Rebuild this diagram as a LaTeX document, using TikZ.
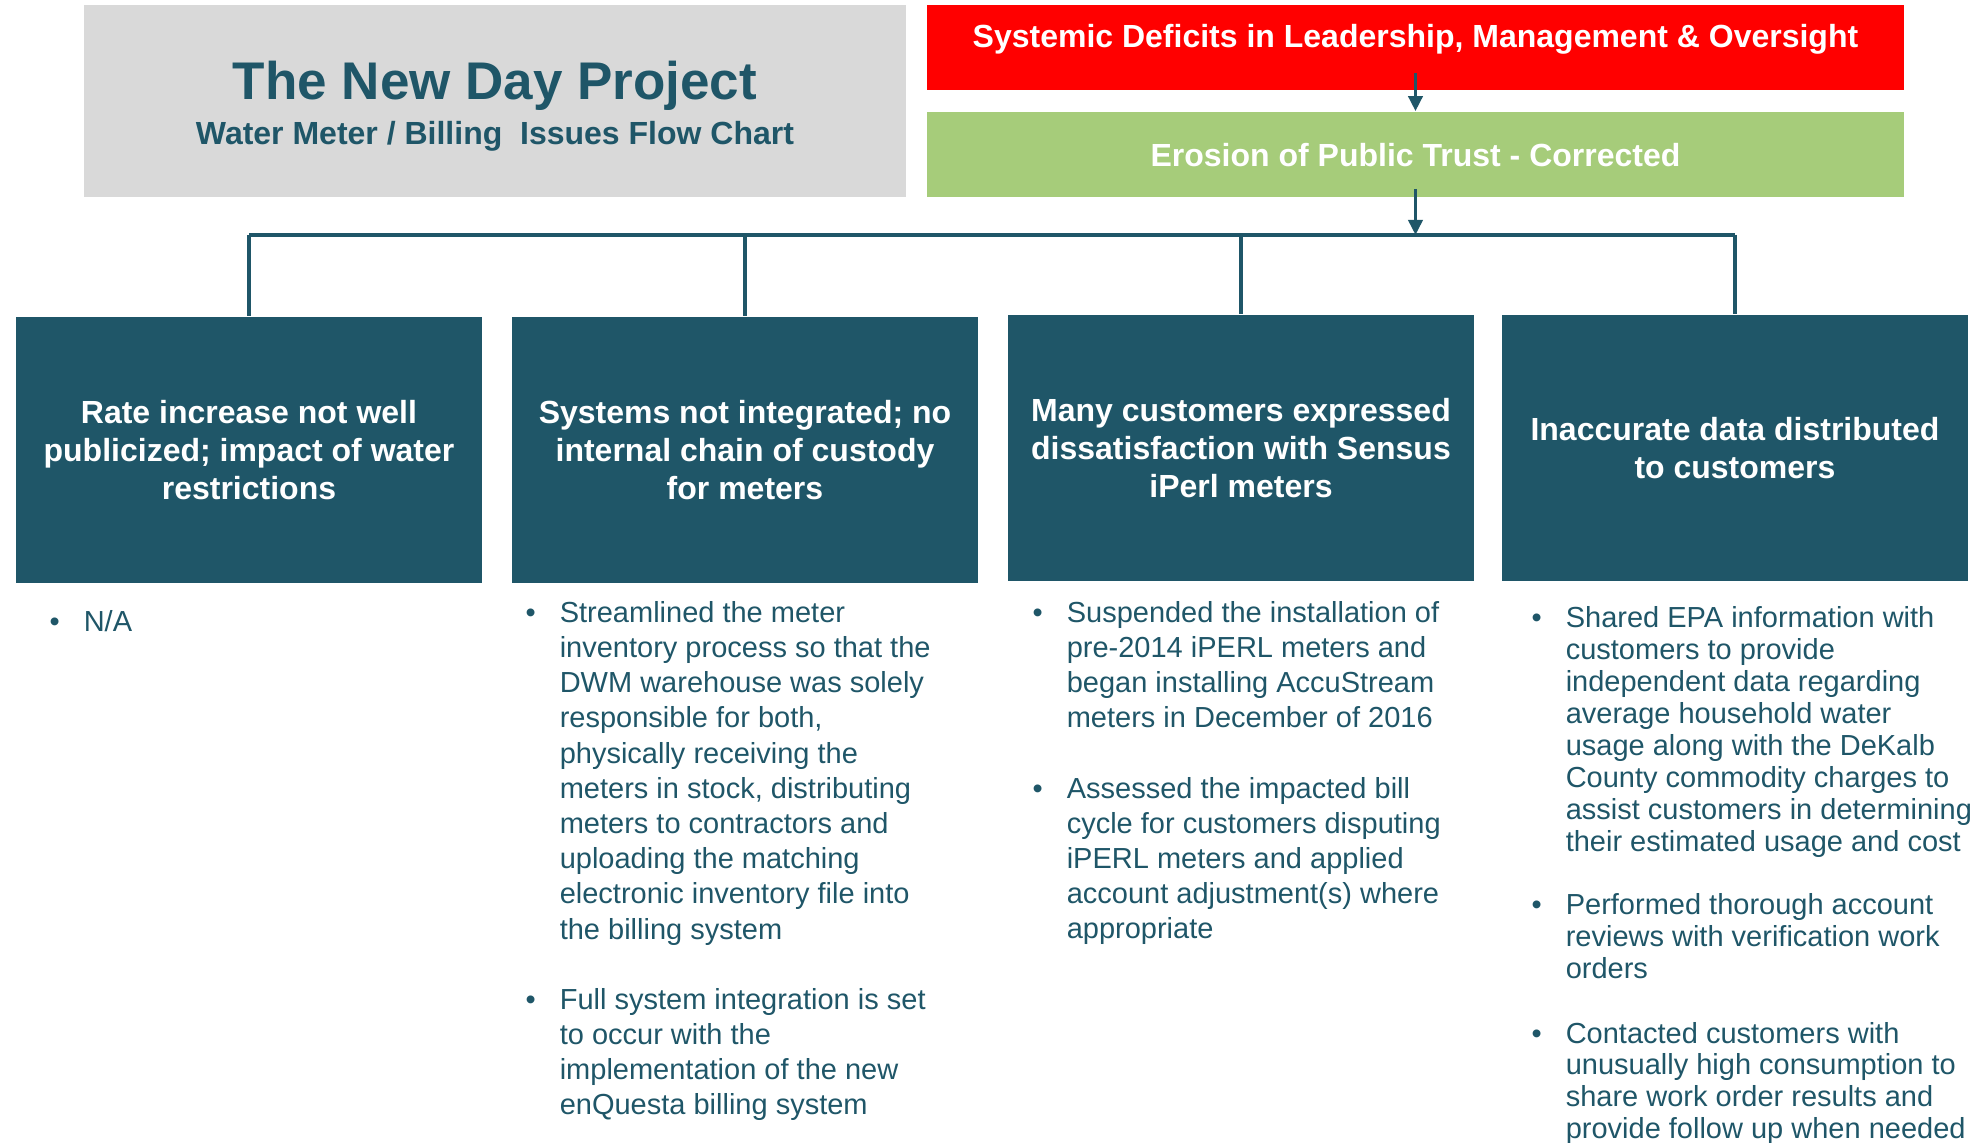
\documentclass[tikz,border=0pt]{standalone}
\usepackage{fontspec}
\setmainfont{Liberation Sans}
\usepackage{tikz}
\usetikzlibrary{arrows.meta}
\usetikzlibrary{positioning}

\definecolor{deepteal}{RGB}{31,86,104}
\definecolor{titlegray}{RGB}{217,217,217}
\definecolor{alarmred}{RGB}{255,0,0}
\definecolor{trustgreen}{RGB}{166,204,122}
\newcommand{\bul}{\llap{\textbullet\hspace{6pt}}}

\begin{document}
\begin{tikzpicture}[x=0.25pt, y=-0.25pt,
    issue/.style={fill=deepteal, text=white, align=center, inner sep=0pt,
      minimum width=116.5pt, minimum height=66.5pt,
      font=\bfseries\fontsize{8pt}{9.5pt}\selectfont},
    banner/.style={text=white, inner sep=0pt, minimum width=244.25pt, minimum height=21.25pt,
      font=\bfseries\fontsize{8pt}{9.6pt}\selectfont},
    fix/.style={text=deepteal, align=left, anchor=base west, inner sep=0pt,
      font=\fontsize{7.25pt}{8.8pt}\selectfont},
    link/.style={draw=deepteal, line width=0.9pt},
    arr/.style={link, -{Triangle[length=3.75pt, width=3.5pt]}}]

  \useasboundingbox (0,0) rectangle (1985,1143);

  \node[fill=titlegray, minimum width=205.5pt, minimum height=48pt] (title) at (495,101) {};
  \node[anchor=base, text=deepteal, font=\bfseries\fontsize{13.25pt}{15pt}\selectfont] (name) at (495,100) {The New Day Project};
  \node[anchor=base, text=deepteal, font=\bfseries\fontsize{8pt}{9.6pt}\selectfont] (sub) at (495,145) {Water Meter / Billing~ Issues Flow Chart};

  \node[banner, fill=alarmred, text height=6pt, text depth=6pt] (top) at (1415.5,47.5) {Systemic Deficits in Leadership, Management \& Oversight};
  \node[banner, fill=trustgreen, text height=6pt, text depth=0pt] (trust) at (1415.5,154.5) {Erosion of Public Trust - Corrected};

  \node[issue] (b1) at (249,450) {Rate increase not well\\publicized; impact of water\\restrictions};
  \node[issue] (b2) at (745,450) {Systems not integrated; no\\internal chain of custody\\for meters};
  \node[issue] (b3) at (1241,448) {Many customers expressed\\dissatisfaction with Sensus\\iPerl meters};
  \node[issue] (b4) at (1735,448) {Inaccurate data distributed\\to customers};

  \coordinate (bus) at (1415.5,235);
  \draw[arr] ([yshift=4.5pt]top.south) -- (trust.north);
  \draw[arr] ([yshift=2.25pt]trust.south) -- (bus);
  \draw[link] (b1.north |- bus) -- (b4.north |- bus);
  \foreach \b in {b1,b2,b3,b4}
    \draw[link] (\b.north |- bus) -- (\b.north);

  % lists sit on the baseline of their last line
  \node[fix] (t1) at (83,632) {\bul N/A};
  \node[fix] (t2) at (559,1115) {\bul Streamlined the meter\\
    inventory process so that the\\
    DWM warehouse was solely\\
    responsible for both,\\
    physically receiving the\\
    meters in stock, distributing\\
    meters to contractors and\\
    uploading the matching\\
    electronic inventory file into\\
    the billing system\\[8.75pt]
    \bul Full system integration is set\\
    to occur with the\\
    implementation of the new\\
    enQuesta billing system};
  \node[fix] (t3) at (1066,939) {\bul Suspended the installation of\\
    pre-2014 iPERL meters and\\
    began installing AccuStream\\
    meters in December of 2016\\[8.75pt]
    \bul Assessed the impacted bill\\
    cycle for customers disputing\\
    iPERL meters and applied\\
    account adjustment(s) where\\
    appropriate};
  \node[fix, font=\fontsize{7.25pt}{8pt}\selectfont] (t4) at (1565,1139) {\bul Shared EPA information with\\
    customers to provide\\
    independent data regarding\\
    average household water\\
    usage along with the DeKalb\\
    County commodity charges to\\
    assist customers in determining\\
    their estimated usage and cost\\[8pt]
    \bul Performed thorough account\\
    reviews with verification work\\
    orders\\[8pt]
    \bul Contacted customers with\\
    unusually high consumption to\\
    share work order results and\\
    provide follow up when needed};
\end{tikzpicture}
\end{document}
